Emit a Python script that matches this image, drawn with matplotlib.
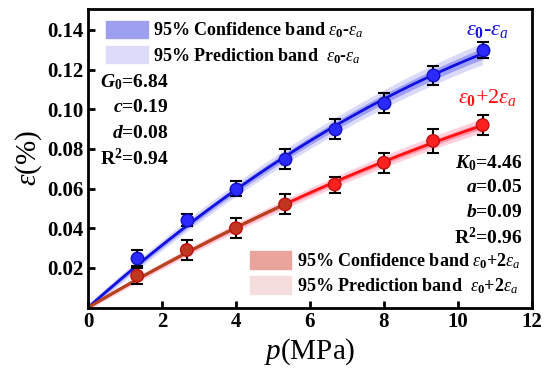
import numpy as np
import matplotlib
matplotlib.use("Agg")
import matplotlib.pyplot as plt
from matplotlib.patches import Patch

plt.rcParams['font.family'] = ['Liberation Serif', 'DejaVu Serif']
plt.rcParams['font.weight'] = 'bold'
plt.rcParams['mathtext.fontset'] = 'custom'
plt.rcParams['mathtext.rm'] = 'Liberation Serif:weight=bold'
plt.rcParams['mathtext.it'] = 'Liberation Serif:style=italic:weight=normal'
plt.rcParams['mathtext.bf'] = 'Liberation Serif:weight=bold'
plt.rcParams['mathtext.bfit'] = 'Liberation Serif:style=italic:weight=bold'

# data
p = np.array([1.33, 2.67, 4.0, 5.33, 6.67, 8.0, 9.33, 10.67])
eps_dev = np.array([0.025, 0.044, 0.060, 0.075, 0.090, 0.103, 0.117, 0.130])
err_dev = np.array([0.004, 0.003, 0.004, 0.005, 0.005, 0.005, 0.005, 0.004])
eps_vol = np.array([0.016, 0.029, 0.040, 0.052, 0.062, 0.073, 0.084, 0.092])
err_vol = np.array([0.004, 0.005, 0.005, 0.005, 0.004, 0.005, 0.006, 0.005])

xticks = [0, 2, 4, 6, 8, 10, 12]
yticks = [0.02, 0.04, 0.06, 0.08, 0.10, 0.12, 0.14]


def fit_curve(x, y, xs):
    # quadratic through the origin
    A = np.column_stack([x, x ** 2])
    coef = np.linalg.lstsq(A, y, rcond=None)[0]
    return coef[0] * xs + coef[1] * xs ** 2


xs = np.linspace(0, p.max(), 200)
fit_dev = fit_curve(p, eps_dev, xs)
fit_vol = fit_curve(p, eps_vol, xs)
grow = 0.35 + 0.65 * xs / xs.max()

fig = plt.figure(figsize=(5.5, 3.76), dpi=100)
ax = fig.add_axes([0.16, 0.182, 0.807, 0.794])

# bands
ax.fill_between(xs, fit_dev - 0.0055 * grow, fit_dev + 0.0055 * grow,
                color='#dadaf8', lw=0, zorder=1)
ax.fill_between(xs, fit_dev - 0.0028 * grow, fit_dev + 0.0028 * grow,
                color='#a0a0f2', lw=0, zorder=1.1)
ax.fill_between(xs, fit_vol - 0.0035 * grow, fit_vol + 0.0035 * grow,
                color='#ffd0dc', lw=0, zorder=1)
ax.fill_between(xs, fit_vol - 0.0016 * grow, fit_vol + 0.0016 * grow,
                color='#ff94a8', lw=0, zorder=1.1)

ax.plot(xs, fit_dev, color='#1010e0', lw=2, zorder=2)
ax.plot(xs, fit_vol, color='#ff1010', lw=2, zorder=2)
low = xs <= 5.4
ax.plot(xs[low], fit_vol[low], color='#b0461e', lw=2, zorder=2.1)

ax.errorbar(p, eps_dev, yerr=err_dev, fmt='o', ms=9, mfc='#2a2aff', mec='#1010c0',
            ecolor='black', elinewidth=1.5, capsize=4, capthick=1.5, zorder=3)
mcol = ['#c0361e' if v <= 5.4 else '#ff2020' for v in p]
ax.errorbar(p, eps_vol, yerr=err_vol, fmt='none', ecolor='black',
            elinewidth=1.5, capsize=4, capthick=1.5, zorder=3)
ax.scatter(p, eps_vol, s=81, c=mcol, edgecolors='#c01010', zorder=4)

ax.set_xlim(0, 12)
ax.set_ylim(0, 0.1505)
ax.set_xticks(xticks)
ax.set_yticks(yticks)
ax.set_yticklabels([f'{v:.2f}' for v in yticks])
ax.tick_params(direction='in', length=5, width=2, labelsize=15)
for s in ax.spines.values():
    s.set_linewidth(2)

ax.set_xlabel('$p$(MPa)', fontsize=21, fontweight='normal', labelpad=3)
ax.set_ylabel(r'$\varepsilon$(%)', fontsize=21, fontweight='normal', labelpad=2)

dev = r'$\varepsilon_{\mathit{0}}$-$\varepsilon_a$'
vol = r'$\varepsilon_{\mathit{0}}$+2$\varepsilon_a$'

# legends
h1 = [Patch(color='#9f9ff0'), Patch(color='#dcdcfa')]
l1 = ['95% Confidence band ' + dev, '95% Prediction band  ' + dev]
leg1 = ax.legend(h1, l1, loc='upper left', bbox_to_anchor=(0.015, 1.0),
                 frameon=False, fontsize=13, handlelength=2.3, handleheight=1.1,
                 labelspacing=0.3, handletextpad=0.3, borderaxespad=0.25)
ax.add_artist(leg1)
h2 = [Patch(color='#eaa49c'), Patch(color='#f6dcdc')]
l2 = ['95% Confidence band ' + vol, '95% Prediction band  ' + vol]
ax.legend(h2, l2, loc='lower right', bbox_to_anchor=(1.0, 0.0),
          frameon=False, fontsize=13, handlelength=2.3, handleheight=1.1,
          labelspacing=0.3, handletextpad=0.3, borderaxespad=0.25)

left_txt = [r'$\mathbfit{G}_0$=6.84', r'$\mathbfit{c}$=0.19',
            r'$\mathbfit{d}$=0.08', 'R$^2$=0.94']
right_txt = [r'$\mathbfit{K}_0$=4.46', r'$\mathbfit{a}$=0.05',
             r'$\mathbfit{b}$=0.09', 'R$^2$=0.96']
for i, t in enumerate(left_txt):
    ax.text(2.16, 0.1137 - i * 0.0129, t, fontsize=14, ha='right', va='center')
for i, t in enumerate(right_txt):
    ax.text(11.73, 0.0729 - i * 0.0126, t, fontsize=14, ha='right', va='center')

ax.text(10.8, 0.140, dev, color='#1010e0', fontsize=16, ha='center', va='center')
ax.text(10.8, 0.106, vol, color='#ff1010', fontsize=16, ha='center', va='center',
        fontweight='normal')

fig.savefig('out.png', dpi=100)
